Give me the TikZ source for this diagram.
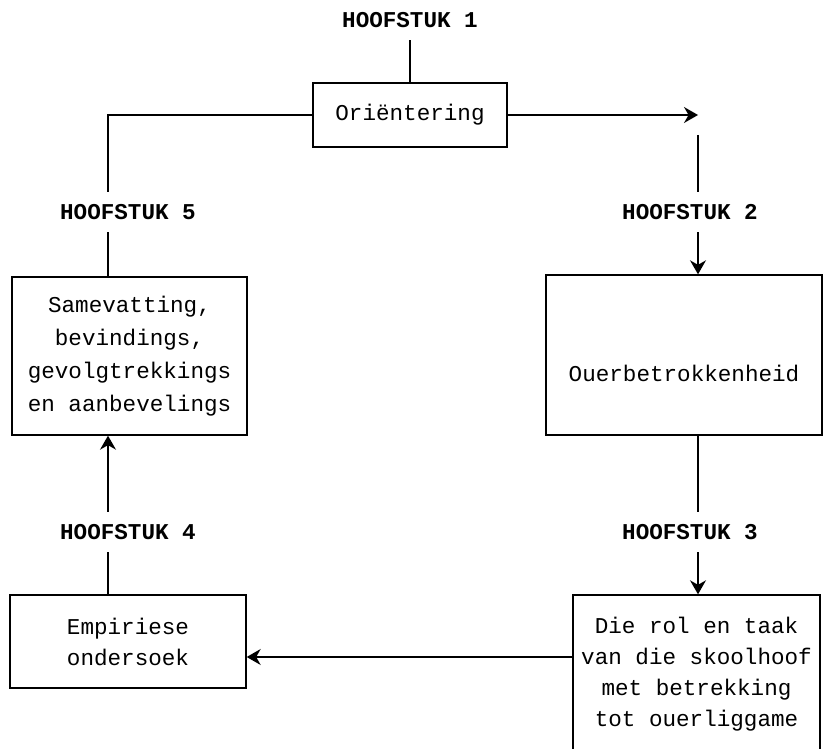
\documentclass[tikz,border=0pt]{standalone}
\usepackage{fontspec}
\setmonofont{Liberation Mono}
\usetikzlibrary{arrows.meta}

\begin{document}
\begin{tikzpicture}[x=0.5pt,y=-0.5pt,
	chapter/.style={font=\ttfamily\bfseries\fontsize{11.3}{15.5}\selectfont, inner sep=6pt},
	block/.style={draw, line width=0.7pt, align=center, inner sep=0pt,
		font=\ttfamily\fontsize{11.3}{15.5}\selectfont},
	conn/.style={line width=0.7pt},
	connarrow/.style={conn, -{Stealth[length=7pt,width=8pt]}}]
	\useasboundingbox (0,0) rectangle (825,749);
	\clip (0,0) rectangle (825,749);
	\coordinate (L) at (108,0);
	\coordinate (R) at (698,0);
	\coordinate (M) at (0,657);
	% Headings
	\path (410,20) node [chapter] (h1) {HOOFSTUK 1};
	\path (128,212) node [chapter] (h5) {HOOFSTUK 5};
	\path (690,212) node [chapter] (h2) {HOOFSTUK 2};
	\path (128,532) node [chapter] (h4) {HOOFSTUK 4};
	\path (690,532) node [chapter] (h3) {HOOFSTUK 3};
	% Blocks
	\path (410,115) node [block, minimum width=97pt, minimum height=32pt] (b1) {Oriëntering};
	\path (129.5,356) node [block, minimum width=117.5pt, minimum height=79pt] (b5)
		{Samevatting,\\[1pt] bevindings,\\[1pt] gevolgtrekkings\\[1pt] en aanbevelings};
	\path (684,355) node [block, minimum width=138pt, minimum height=80pt] (b2)
		{\raisebox{-9pt}[\height][\depth]{Ouerbetrokkenheid}};
	\path (128,641.5) node [block, minimum width=118pt, minimum height=46.5pt] (b4)
		{Empiriese\\ ondersoek};
	\path (696.5,674) node [block, minimum width=123.5pt, minimum height=79pt] (b3)
		{Die rol en taak\\ van die skoolhoof\\ met betrekking\\ tot ouerliggame};
	% Left column
	\draw[conn] (h1.south) -- (b1.north);
	\draw[conn] (b1.west) -| (h5.north -| L);
	\draw[conn] (h5.south -| L) -- (b5.north -| L);
	\draw[connarrow] (h4.north -| L) -- (b5.south -| L);
	\draw[conn] (h4.south -| L) -- (b4.north -| L);
	% Right column
	\draw[connarrow] (b1.east) -- (b1.east -| R);
	\draw[conn] ([yshift=-10pt]b1.east -| R) -- (h2.north -| R);
	\draw[connarrow] (h2.south -| R) -- (b2.north -| R);
	\draw[conn] (b2.south -| R) -- (h3.north -| R);
	\draw[connarrow] (h3.south -| R) -- (b3.north -| R);
	\draw[connarrow] (b3.west |- M) -- (b4.east |- M);
\end{tikzpicture}
\end{document}
